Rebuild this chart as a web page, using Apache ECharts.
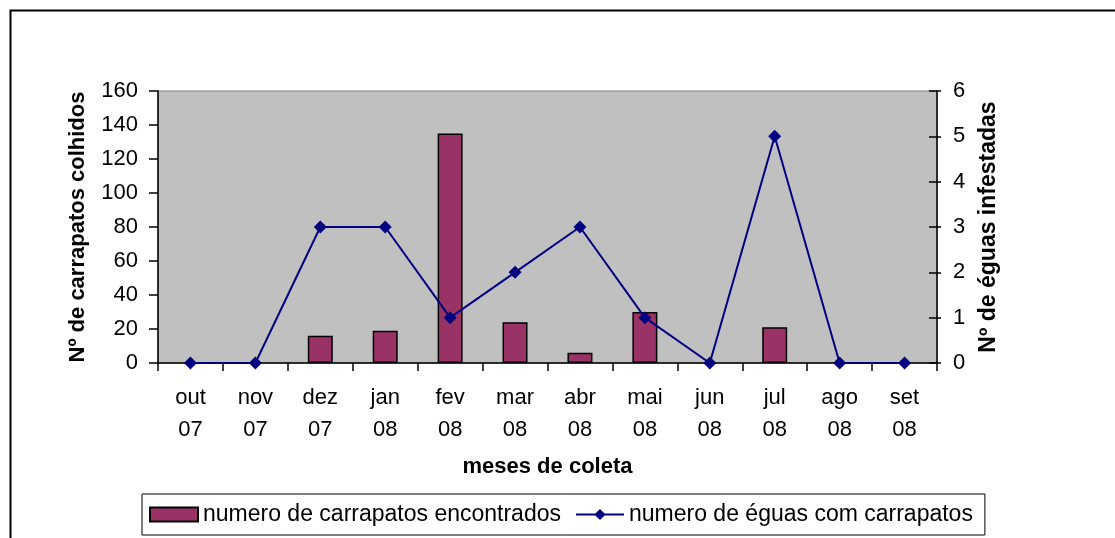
<!DOCTYPE html>
<html>
<head>
<meta charset="utf-8">
<script src="https://cdn.jsdelivr.net/npm/echarts@6/dist/echarts.min.js"></script>
<style>
  html, body { margin: 0; padding: 0; background: #fff; }
  #chart { width: 1115px; height: 538px; }
</style>
</head>
<body>
<div id="chart"></div>
<script>
  // meses de coleta
  let meses = ['out\n07', 'nov\n07', 'dez\n07', 'jan\n08', 'fev\n08', 'mar\n08',
               'abr\n08', 'mai\n08', 'jun\n08', 'jul\n08', 'ago\n08', 'set\n08']
  let carrapatos = [0, 0, 16, 19, 135, 24, 6, 30, 0, 21, 0, 0]
  let eguas = [0, 0, 3, 3, 1, 2, 3, 1, 0, 5, 0, 0]

  let font = 'Liberation Sans, Arial, sans-serif'
  let myChart = echarts.init(document.getElementById('chart'))
  let option = {
    animation: false,
    textStyle: { fontFamily: font, color: '#000' },
    graphic: [{
      type: 'rect',
      left: 8, top: 8,
      shape: { width: 1200, height: 600 },
      style: { fill: 'none', stroke: '#000', lineWidth: 2 }
    }],
    grid: {
      left: 158, right: 178, top: 91, bottom: 175,
      show: true,
      backgroundColor: '#C0C0C0',
      borderColor: '#808080',
      borderWidth: 1
    },
    legend: {
      bottom: 3,
      left: 142,
      borderColor: '#000',
      borderWidth: 1,
      padding: [9, 12, 9, 7],
      itemGap: 14,
      itemWidth: 48,
      itemHeight: 14,
      textStyle: { fontSize: 23, fontFamily: font, color: '#000' },
      data: [
        { name: 'numero de carrapatos encontrados', icon: 'rect' },
        { name: 'numero de éguas com carrapatos' }
      ]
    },
    xAxis: {
      type: 'category',
      data: meses,
      boundaryGap: true,
      name: 'meses de coleta',
      nameLocation: 'middle',
      nameGap: 93,
      nameTextStyle: { fontSize: 22, fontWeight: 'bold', color: '#000' },
      axisLine: { lineStyle: { color: '#000', width: 1.5 } },
      axisTick: { show: true, length: 8, lineStyle: { color: '#000', width: 1.5 } },
      axisLabel: { fontSize: 22, color: '#000', lineHeight: 32, margin: 19 }
    },
    yAxis: [{
      type: 'value',
      min: 0, max: 160, interval: 20,
      name: 'Nº de carrapatos colhidos',
      nameLocation: 'middle',
      nameRotate: 90,
      nameGap: 69,
      nameTextStyle: { fontSize: 22, fontWeight: 'bold', color: '#000' },
      axisLine: { show: true, lineStyle: { color: '#000', width: 1.5 } },
      axisTick: { show: true, length: 9, lineStyle: { color: '#000', width: 1.5 } },
      axisLabel: { fontSize: 22, color: '#000', margin: 20 },
      splitLine: { show: false }
    }, {
      type: 'value',
      min: 0, max: 6, interval: 1,
      name: 'Nº de éguas infestadas',
      nameLocation: 'middle',
      nameRotate: 90,
      nameGap: 40,
      nameTextStyle: { fontSize: 23, fontWeight: 'bold', color: '#000' },
      axisLine: { show: true, lineStyle: { color: '#000', width: 1.5 } },
      axisTick: { show: true, length: 4, lineStyle: { color: '#000', width: 1.5 } },
      axisLabel: { fontSize: 22, color: '#000', margin: 16 },
      splitLine: { show: false }
    }, {
      // inner half of the crossing ticks on the right axis
      type: 'value',
      position: 'right',
      min: 0, max: 6, interval: 1,
      axisLine: { show: false },
      axisTick: { show: true, inside: true, length: 8, lineStyle: { color: '#000', width: 1.5 } },
      axisLabel: { show: false },
      splitLine: { show: false }
    }],
    series: []
  }
  option.series[0] = {
    name: 'numero de carrapatos encontrados',
    type: 'bar',
    data: carrapatos.map(v => v === 0 ? null : v),
    barWidth: 25,
    itemStyle: { color: '#993366', borderColor: '#000', borderWidth: 1.5 }
  }
  option.series[1] = {
    name: 'numero de éguas com carrapatos',
    type: 'line',
    yAxisIndex: 1,
    data: eguas,
    symbol: 'diamond',
    symbolSize: 13,
    lineStyle: { color: '#000080', width: 2 },
    itemStyle: { color: '#000080' },
    z: 3
  }
  myChart.setOption(option)
</script>
</body>
</html>
